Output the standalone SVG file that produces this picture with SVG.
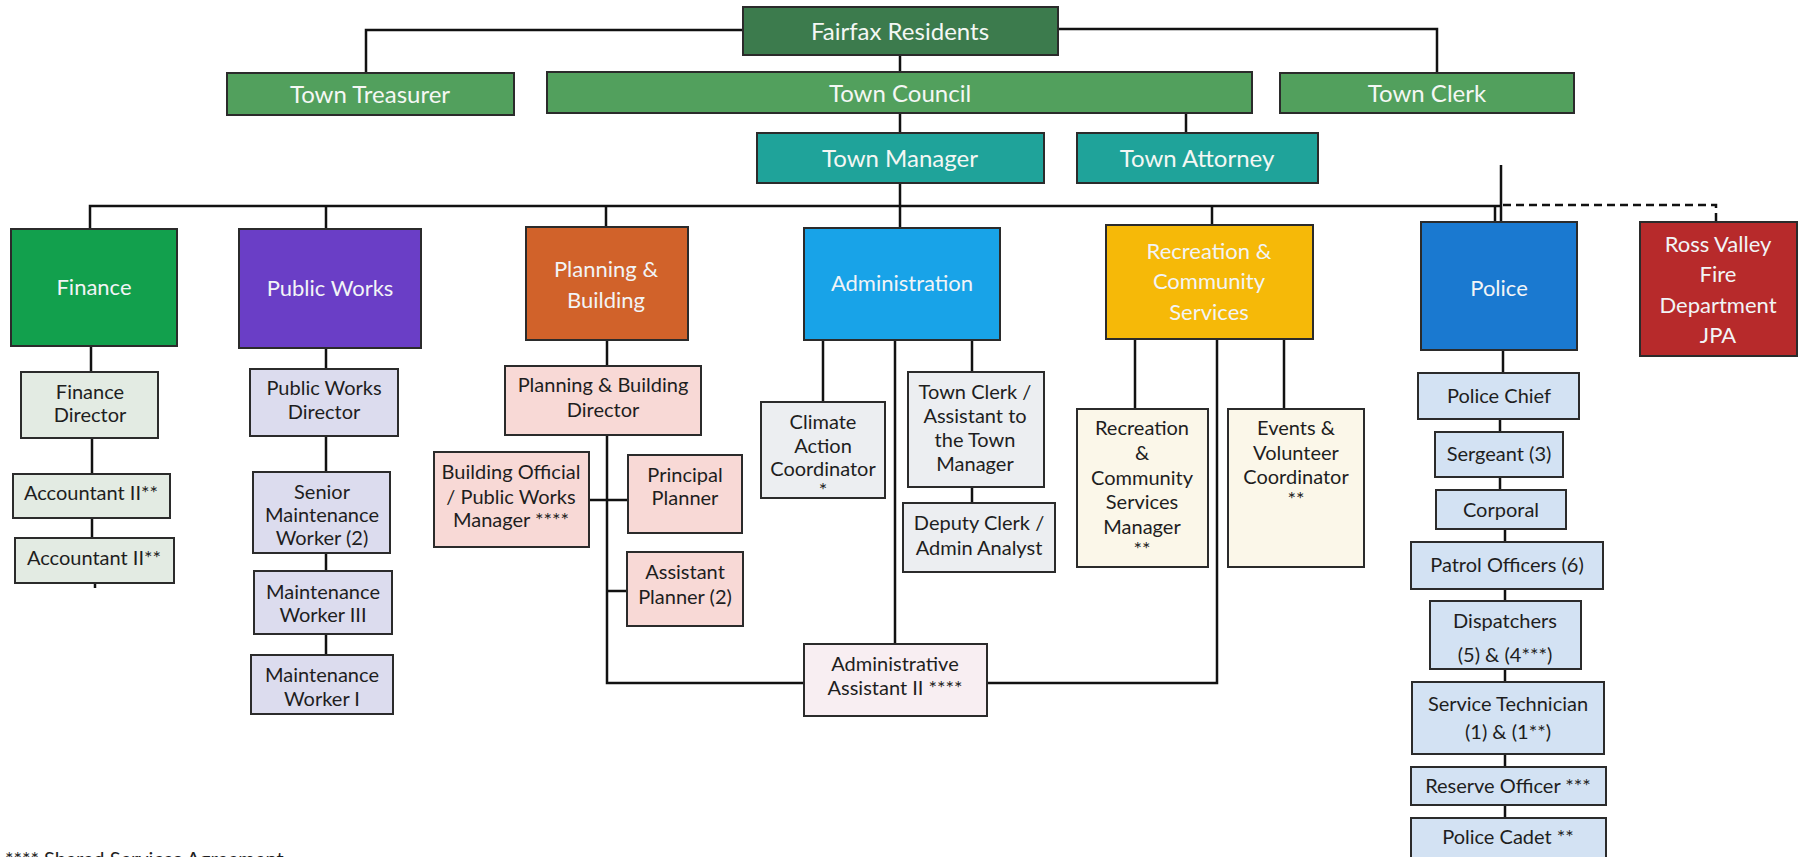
<svg xmlns="http://www.w3.org/2000/svg" width="1801" height="857" viewBox="0 0 1801 857">
<style>
text{font-family:Lato,"Open Sans","Liberation Sans",sans-serif;text-anchor:middle}
.h{font-size:24px;fill:#f4f7f4}
.d{font-size:22px;fill:#f2f4f6}
.s{font-size:20px;fill:#1e1e1e}
.bx{stroke:#2b2b2b;stroke-width:2}
.res{fill:#3c7b4d}
.gov{fill:#52a05d}
.tm{fill:#1fa39a}
.fin{fill:#12a04d}
.pw{fill:#6a3ec6}
.pl{fill:#d1622a}
.ad{fill:#18a3e8}
.rc{fill:#f6b908}
.po{fill:#1a79d0}
.rv{fill:#b72a2b}
.sfin{fill:#e3ebe3}
.spw{fill:#dcdcee}
.spl{fill:#f8d9d6}
.sad{fill:#eceef1}
.saa{fill:#f8eef2}
.src{fill:#fbf7e9}
.spo{fill:#d3e2f3}
.ln{stroke:#111;stroke-width:2.5;fill:none}
.dash{stroke:#111;stroke-width:2.5;fill:none;stroke-dasharray:8 5}
</style>
<rect width="1801" height="857" fill="#ffffff"/>
<g id="connectors">
<path class="ln" d="M743,30 H366 V73"/>
<path class="ln" d="M1058,29 H1437 V73"/>
<path class="ln" d="M900,55 V72 M900,113 V133 M1186,113 V133 M900,183 V228"/>
<path class="ln" d="M90,229 V206 H1500"/>
<path class="ln" d="M326,206 V229 M606,206 V227 M1212,206 V225 M1495,206 V222 M1501,165 V222"/>
<path class="dash" d="M1503,205 H1716 V222"/>
<path class="ln" d="M91,346 V372 M92,438 V474 M92,518 V538 M95,583 V588"/>
<path class="ln" d="M326,348 V369 M326,436 V472 M326,553 V571 M326,634 V655"/>
<path class="ln" d="M607,340 V366 M607,435 V683 H804 M589,500 H628 M607,591 H627"/>
<path class="ln" d="M823,340 V402 M895,340 V644 M972,340 V372 M972,487 V503"/>
<path class="ln" d="M987,683 H1217 V339 M1135,339 V409 M1284,339 V409"/>
<path class="ln" d="M1503,350 V373 M1500,419 V432 M1500,477 V490 M1505,529 V542 M1505,589 V601 M1505,669 V682 M1505,754 V767 M1505,805 V818"/>
</g>
<g id="fairfax-residents"><rect class="bx res" x="743" y="7" width="315" height="48"/><text class="h" x="900" y="39.5">Fairfax Residents</text></g>
<g id="town-treasurer"><rect class="bx gov" x="227" y="73" width="287" height="42"/><text class="h" x="370" y="102.5">Town Treasurer</text></g>
<g id="town-council"><rect class="bx gov" x="547" y="72" width="705" height="41"/><text class="h" x="900" y="101.5">Town Council</text></g>
<g id="town-clerk"><rect class="bx gov" x="1280" y="73" width="294" height="40"/><text class="h" x="1427" y="101.5">Town Clerk</text></g>
<g id="town-manager"><rect class="bx tm" x="757" y="133" width="287" height="50"/><text class="h" x="900" y="166.5">Town Manager</text></g>
<g id="town-attorney"><rect class="bx tm" x="1077" y="133" width="241" height="50"/><text class="h" x="1197" y="166.5">Town Attorney</text></g>

<g id="finance"><rect class="bx fin" x="11" y="229" width="166" height="117"/><text class="d" x="94" y="295">Finance</text></g>
<g id="public-works"><rect class="bx pw" x="239" y="229" width="182" height="119"/><text class="d" x="330" y="296">Public Works</text></g>
<g id="planning-building"><rect class="bx pl" x="526" y="227" width="162" height="113"/><text class="d" x="606" y="277">Planning &amp;</text><text class="d" x="606" y="308">Building</text></g>
<g id="administration"><rect class="bx ad" x="804" y="228" width="196" height="112"/><text class="d" x="902" y="291">Administration</text></g>
<g id="recreation"><rect class="bx rc" x="1106" y="225" width="207" height="114"/><text class="d" x="1209" y="259">Recreation &amp;</text><text class="d" x="1209" y="289">Community</text><text class="d" x="1209" y="320">Services</text></g>
<g id="police"><rect class="bx po" x="1421" y="222" width="156" height="128"/><text class="d" x="1499" y="296">Police</text></g>
<g id="ross-valley-fire"><rect class="bx rv" x="1640" y="222" width="157" height="134"/><text class="d" x="1718" y="252">Ross Valley</text><text class="d" x="1718" y="282">Fire</text><text class="d" x="1718" y="313">Department</text><text class="d" x="1718" y="343">JPA</text></g>

<g id="finance-director"><rect class="bx sfin" x="21" y="372" width="137" height="66"/><text class="s" x="90" y="399">Finance</text><text class="s" x="90" y="422">Director</text></g>
<g id="accountant-1"><rect class="bx sfin" x="13" y="474" width="157" height="44"/><text class="s" x="91" y="500">Accountant II**</text></g>
<g id="accountant-2"><rect class="bx sfin" x="15" y="538" width="159" height="45"/><text class="s" x="94" y="565">Accountant II**</text></g>

<g id="pw-director"><rect class="bx spw" x="250" y="369" width="148" height="67"/><text class="s" x="324" y="395">Public Works</text><text class="s" x="324" y="419">Director</text></g>
<g id="senior-maintenance"><rect class="bx spw" x="253" y="472" width="137" height="81"/><text class="s" x="322" y="499">Senior</text><text class="s" x="322" y="522">Maintenance</text><text class="s" x="322" y="545">Worker (2)</text></g>
<g id="maintenance-iii"><rect class="bx spw" x="254" y="571" width="138" height="63"/><text class="s" x="323" y="599">Maintenance</text><text class="s" x="323" y="622">Worker III</text></g>
<g id="maintenance-i"><rect class="bx spw" x="251" y="655" width="142" height="59"/><text class="s" x="322" y="682">Maintenance</text><text class="s" x="322" y="706">Worker I</text></g>

<g id="pb-director"><rect class="bx spl" x="505" y="366" width="196" height="69"/><text class="s" x="603" y="392">Planning &amp; Building</text><text class="s" x="603" y="417">Director</text></g>
<g id="building-official"><rect class="bx spl" x="434" y="452" width="155" height="95"/><text class="s" x="511" y="479">Building Official</text><text class="s" x="511" y="504">/ Public Works</text><text class="s" x="511" y="527">Manager ****</text></g>
<g id="principal-planner"><rect class="bx spl" x="628" y="455" width="114" height="78"/><text class="s" x="685" y="482">Principal</text><text class="s" x="685" y="505">Planner</text></g>
<g id="assistant-planner"><rect class="bx spl" x="627" y="552" width="116" height="74"/><text class="s" x="685" y="579">Assistant</text><text class="s" x="685" y="604">Planner (2)</text></g>

<g id="climate-action"><rect class="bx sad" x="761" y="402" width="124" height="96"/><text class="s" x="823" y="429">Climate</text><text class="s" x="823" y="453">Action</text><text class="s" x="823" y="476">Coordinator</text><text class="s" x="823" y="497">*</text></g>
<g id="town-clerk-assistant"><rect class="bx sad" x="908" y="372" width="136" height="115"/><text class="s" x="975" y="399">Town Clerk /</text><text class="s" x="975" y="423">Assistant to</text><text class="s" x="975" y="447">the Town</text><text class="s" x="975" y="471">Manager</text></g>
<g id="deputy-clerk"><rect class="bx sad" x="903" y="503" width="152" height="69"/><text class="s" x="979" y="530">Deputy Clerk /</text><text class="s" x="979" y="555">Admin Analyst</text></g>
<g id="admin-assistant"><rect class="bx saa" x="804" y="644" width="183" height="72"/><text class="s" x="895" y="671">Administrative</text><text class="s" x="895" y="695">Assistant II ****</text></g>

<g id="rec-manager"><rect class="bx src" x="1077" y="409" width="131" height="158"/><text class="s" x="1142" y="435">Recreation</text><text class="s" x="1142" y="460">&amp;</text><text class="s" x="1142" y="485">Community</text><text class="s" x="1142" y="509">Services</text><text class="s" x="1142" y="534">Manager</text><text class="s" x="1142" y="556">**</text></g>
<g id="events-volunteer"><rect class="bx src" x="1228" y="409" width="136" height="158"/><text class="s" x="1296" y="435">Events &amp;</text><text class="s" x="1296" y="460">Volunteer</text><text class="s" x="1296" y="484">Coordinator</text><text class="s" x="1296" y="506">**</text></g>

<g id="police-chief"><rect class="bx spo" x="1418" y="373" width="161" height="46"/><text class="s" x="1499" y="403">Police Chief</text></g>
<g id="sergeant"><rect class="bx spo" x="1435" y="432" width="128" height="45"/><text class="s" x="1499" y="461">Sergeant (3)</text></g>
<g id="corporal"><rect class="bx spo" x="1436" y="490" width="130" height="39"/><text class="s" x="1501" y="517">Corporal</text></g>
<g id="patrol-officers"><rect class="bx spo" x="1411" y="542" width="192" height="47"/><text class="s" x="1507" y="572">Patrol Officers (6)</text></g>
<g id="dispatchers"><rect class="bx spo" x="1430" y="601" width="151" height="68"/><text class="s" x="1505" y="628">Dispatchers</text><text class="s" x="1505" y="662">(5) &amp; (4***)</text></g>
<g id="service-technician"><rect class="bx spo" x="1412" y="682" width="192" height="72"/><text class="s" x="1508" y="711">Service Technician</text><text class="s" x="1508" y="739">(1) &amp; (1**)</text></g>
<g id="reserve-officer"><rect class="bx spo" x="1411" y="767" width="195" height="38"/><text class="s" x="1508" y="793">Reserve Officer ***</text></g>
<g id="police-cadet"><rect class="bx spo" x="1411" y="818" width="195" height="42"/><text class="s" x="1508" y="844">Police Cadet **</text></g>

<text class="s" x="5" y="866" style="text-anchor:start">**** Shared Services Agreement</text>
</svg>
